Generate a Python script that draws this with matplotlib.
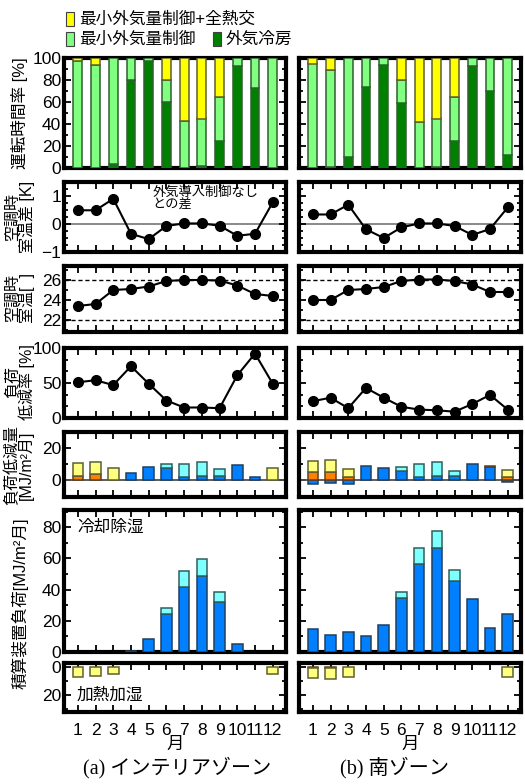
import numpy as np
import matplotlib.pyplot as plt
from matplotlib.patches import Rectangle
from matplotlib.ticker import MultipleLocator, AutoMinorLocator

plt.rcParams['font.family'] = ['Liberation Sans', 'Noto Sans CJK JP']
plt.rcParams['font.size'] = 11.5

months = np.arange(1, 13)
month_labels = [str(m) for m in months]

# 運転時間率 [%] (segment heights)
oa_cool_a = [0, 0, 4, 80, 97, 60, 0, 2, 25, 93, 73, 0]
min_oa_a = [97, 94, 96, 20, 3, 20, 43, 43, 40, 7, 27, 100]
min_oa_hx_a = [3, 6, 0, 0, 0, 20, 57, 55, 35, 0, 0, 0]
oa_cool_b = [0, 1, 10, 74, 94, 59, 0, 1, 25, 93, 70, 12]
min_oa_b = [95, 88, 90, 26, 6, 21, 42, 44, 40, 7, 30, 88]
min_oa_hx_b = [5, 11, 0, 0, 0, 20, 58, 55, 35, 0, 0, 0]

# 室温差 [K]
dt_a = [0.49, 0.49, 0.9, -0.35, -0.54, -0.07, 0.02, 0.02, -0.06, -0.42, -0.35, 0.77]
dt_b = [0.34, 0.34, 0.69, -0.19, -0.5, -0.12, 0.02, 0.02, -0.07, -0.39, -0.18, 0.59]

# 空調時室温
ta_a = [23.4, 23.6, 25.0, 25.1, 25.35, 25.9, 26.0, 26.0, 25.95, 25.45, 24.6, 24.4]
ta_b = [24.0, 24.0, 25.0, 25.1, 25.3, 25.9, 26.05, 26.05, 25.9, 25.55, 24.8, 24.8]

# 負荷低減率 [%]
red_a = [51, 54, 47, 74, 49, 25, 15, 15, 14, 61, 92, 49]
red_b = [24, 29, 14, 43, 29, 16, 12, 11, 9, 20, 33, 12]

# 負荷低減量 [MJ/m2月]
rb_a = [0, 0, 0, 4.2, 8.4, 7.4, 2.0, 2.5, 2.7, 9.3, 2.0, 0]
rc_a = [0, 0, 0, 0, 0, 2.3, 7.7, 8.5, 4.0, 0, 0, 0]
ro_a = [2.7, 3.8, 0, 0, 0, 0, 0, 0, 0, 0, 0, 0]
ry_a = [7.8, 7.2, 7.4, 0, 0, 0, 0, 0, 0, 0, 0, 7.4]
rb_b = [-2.7, -2.1, -2.3, 8.8, 7.8, 5.7, 1.9, 2.5, 2.5, 9.7, 8.2, -1.0]
rc_b = [0, 0, 0, 0, 0, 2.5, 8.4, 8.5, 3.2, 0, 0, 0]
ro_b = [5.0, 5.3, 1.9, 0, 0, 0, 0, 0, 0, 0, 0.3, 1.9]
ry_b = [6.6, 7.1, 4.8, 0, 0, 0, 0, 0, 0, 0, 0, 4.4]

# 積算装置負荷 冷却除湿
cb_a = [0, 0, 0, 0.7, 8.2, 24.2, 41.8, 48.5, 31.8, 5.4, 0, 0]
cc_a = [0, 0, 0, 0, 0, 4.3, 10.2, 11.2, 6.8, 0, 0, 0]
cb_b = [14.6, 11.2, 12.9, 10.3, 17.2, 34.3, 56.4, 66.7, 45.7, 33.7, 15.5, 24.3]
cc_b = [0, 0, 0, 0, 0, 4.3, 10.3, 11.0, 6.7, 0, 0, 0]

# 積算装置負荷 加熱加湿
ho_a = [0, 0, 0, 0, 0, 0, 0, 0, 0, 0, 0, 0]
hy_a = [7.1, 6.7, 5.2, 0, 0, 0, 0, 0, 0, 0, 0, 5.2]
ho_b = [0.5, 1.0, 0, 0, 0, 0, 0, 0, 0, 0, 0, 0]
hy_b = [7.3, 7.8, 7.1, 0, 0, 0, 0, 0, 0, 0, 0, 7.1]

YEL = '#ffff00'
LGREEN = '#80ff80'
DGREEN = '#008000'
BLUE = '#0080ff'
CYAN = '#80ffff'
LYEL = '#ffff80'
ORANGE = '#ff8000'

W, H = 525, 784
fig = plt.figure(figsize=(W / 100, H / 100), dpi=100)


def box(x0, x1, top, bot):
    return [x0 / W, 1 - bot / H, (x1 - x0) / W, (bot - top) / H]


cols = [(64, 286), (299, 521)]
rows = [(58, 168), (182, 252), (266, 332), (348, 418), (432, 497), (510, 652), (663, 712)]


def bars(ax, vals, bottom, color, width, ec):
    vals = np.asarray(vals, float)
    bottom = np.asarray(bottom, float)
    m = vals != 0
    ax.bar(months[m], vals[m], bottom=bottom[m], width=width, color=color,
           edgecolor=ec, linewidth=1.1, zorder=3)


def style(ax, left, bottom_labels=False):
    for s in ax.spines.values():
        s.set_linewidth(3)
    ax.set_xlim(0.22, 12.75)
    ax.set_xticks(months)
    ax.set_xticklabels(month_labels)
    ax.tick_params(which='both', direction='in', top=True, right=True,
                   labelleft=left, labelbottom=bottom_labels, width=1.3,
                   pad=2, labelsize=12.5)
    ax.tick_params(which='major', length=5)
    ax.tick_params(which='minor', length=3)
    ax.tick_params(axis='x', pad=8)


zones = [
    (oa_cool_a, min_oa_a, min_oa_hx_a, dt_a, ta_a, red_a, rb_a, rc_a, ro_a, ry_a,
     cb_a, cc_a, ho_a, hy_a),
    (oa_cool_b, min_oa_b, min_oa_hx_b, dt_b, ta_b, red_b, rb_b, rc_b, ro_b, ry_b,
     cb_b, cc_b, ho_b, hy_b),
]

for c, ((x0, x1), z) in enumerate(zip(cols, zones)):
    (dg, lg, yl, dt, ta, red, rb, rc, ro, ry, cb, cc, ho, hy) = z
    left = c == 0
    axs = [fig.add_axes(box(x0, x1, t, b)) for (t, b) in rows]

    # 運転時間率
    ax = axs[0]
    dg_ = np.array(dg, float)
    lg_ = np.array(lg, float)
    bars(ax, dg_, np.zeros(12), DGREEN, 0.5, '#2f5f2f')
    bars(ax, lg_, dg_, LGREEN, 0.5, '#2f5f2f')
    bars(ax, yl, dg_ + lg_, YEL, 0.5, '#5f5f2f')
    ax.set_ylim(0, 100)
    ax.yaxis.set_major_locator(MultipleLocator(20))
    ax.yaxis.set_minor_locator(MultipleLocator(10))

    # 室温差
    ax = axs[1]
    ax.axhline(0, color='#808080', lw=1.3, zorder=1)
    ax.plot(months, dt, 'o-', color='black', ms=7, lw=1.5, zorder=3)
    ax.set_ylim(-1, 1.5)
    ax.yaxis.set_major_locator(MultipleLocator(1))
    ax.yaxis.set_minor_locator(MultipleLocator(0.25))
    if left:
        ax.text(5.2, 1.33, '外気導入制御なし\nとの差', fontsize=9.5,
                va='top', ha='left', linespacing=1.0)

    # 室温
    ax = axs[2]
    ax.axhline(26, color='black', lw=1, ls=(0, (3, 2)), zorder=1)
    ax.axhline(22, color='black', lw=1, ls=(0, (3, 2)), zorder=1)
    ax.plot(months, ta, 'o-', color='black', ms=7, lw=1.5, zorder=3)
    ax.set_ylim(20.8, 27.4)
    ax.yaxis.set_major_locator(MultipleLocator(2))
    ax.yaxis.set_minor_locator(MultipleLocator(1))

    # 負荷低減率
    ax = axs[3]
    ax.plot(months, red, 'o-', color='black', ms=7, lw=1.5, zorder=3)
    ax.set_ylim(0, 100)
    ax.yaxis.set_major_locator(MultipleLocator(50))
    ax.yaxis.set_minor_locator(AutoMinorLocator(3))

    # 負荷低減量
    ax = axs[4]
    ax.axhline(0, color='#505050', lw=1.3, zorder=2)
    rb_ = np.array(rb, float)
    rc_ = np.array(rc, float)
    ro_ = np.array(ro, float)
    pos = np.clip(rb_, 0, None)
    bars(ax, rb_, np.zeros(12), BLUE, 0.6, '#1f3f5f')
    bars(ax, rc_, pos, CYAN, 0.6, '#2f5f5f')
    bars(ax, ro_, pos + rc_, ORANGE, 0.6, '#5f3f1f')
    bars(ax, ry, pos + rc_ + ro_, LYEL, 0.6, '#5f5f2f')
    ax.set_ylim(-10.6, 30)
    ax.yaxis.set_major_locator(MultipleLocator(20))
    ax.yaxis.set_minor_locator(MultipleLocator(10))

    # 冷却除湿
    ax = axs[5]
    cb_ = np.array(cb, float)
    bars(ax, cb_, np.zeros(12), BLUE, 0.6, '#1f3f5f')
    bars(ax, cc, cb_, CYAN, 0.6, '#2f5f5f')
    ax.set_ylim(0, 91)
    ax.yaxis.set_major_locator(MultipleLocator(20))
    ax.yaxis.set_minor_locator(MultipleLocator(10))
    if left:
        ax.text(1.0, 80, '冷却除湿', fontsize=12, va='center', ha='left')

    # 加熱加湿
    ax = axs[6]
    ho_ = np.array(ho, float)
    bars(ax, ho_, np.zeros(12), ORANGE, 0.6, '#5f3f1f')
    bars(ax, hy, ho_, LYEL, 0.6, '#5f5f2f')
    ax.set_ylim(32, -2.9)
    ax.yaxis.set_major_locator(MultipleLocator(20))
    ax.yaxis.set_minor_locator(MultipleLocator(10))
    if left:
        ax.text(0.95, 20, '加熱加湿', fontsize=12, va='center', ha='left')
    ax.set_xlabel('月', fontsize=12.5, labelpad=-1)

    for i, a in enumerate(axs):
        style(a, left, bottom_labels=(i == 6))

# y labels
def ylab(x, y, s, size=11.5):
    fig.text(x / W, 1 - y / H, s, rotation=90, ha='center', va='center',
             fontsize=size, linespacing=0.95, multialignment='center')


ylab(20, 113, '運転時間率 [%]', 12)
ylab(20, 217, '空調時\n室温差 [K]')
ylab(20, 298, '空調時\n室温[  ]')
ylab(20, 382, '負荷\n低減率 [%]')
ylab(19, 465, '負荷低減量\n[MJ/m²月]')
ylab(20, 603, '積算装置負荷[MJ/m²月]', 12)

# legend
leg = [(66, 19, YEL, '最小外気量制御+全熱交'),
       (66, 39, LGREEN, '最小外気量制御'),
       (213, 39, DGREEN, '外気冷房')]
for (lx, ly, col, txt) in leg:
    fig.add_artist(Rectangle((lx / W, 1 - (ly + 7) / H), 8 / W, 14 / H,
                             transform=fig.transFigure, facecolor=col,
                             edgecolor='#404040', lw=0.8))
    fig.text((lx + 13) / W, 1 - ly / H, txt, ha='left', va='center', fontsize=12)

# captions
fig.text(177 / W, 1 - 768 / H, '(a) インテリアゾーン', ha='center', va='center',
         fontsize=14.5, family=['Liberation Serif', 'Noto Sans CJK JP'])
fig.text(395 / W, 1 - 768 / H, '(b) 南ゾーン', ha='center', va='center',
         fontsize=14.5, family=['Liberation Serif', 'Noto Sans CJK JP'])

fig.savefig('out.png', dpi=100)
